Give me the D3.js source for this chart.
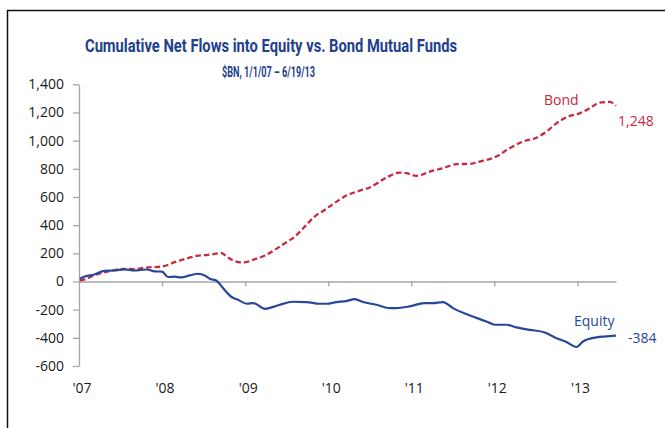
<!DOCTYPE html>
<html>
<head>
<meta charset="utf-8">
<script src="https://cdn.jsdelivr.net/npm/d3@7"></script>
<style>
	body { margin: 0; background: #fff; }
	text { font-family: "Open Sans", sans-serif; }
</style>
</head>
<body>
<div id="container"></div>
<script>
// chart data
var equityDates = ["2007-01-05", "2007-01-27", "2007-03-10", "2007-04-23", "2007-06-06", "2007-07-20", "2007-09-02", "2007-10-24",
	"2007-12-01", "2008-01-01", "2008-01-28", "2008-02-26", "2008-03-26", "2008-05-02", "2008-06-07", "2008-07-07",
	"2008-07-29", "2008-08-28", "2008-09-25", "2008-11-02", "2008-11-30", "2009-01-08", "2009-02-05", "2009-03-28",
	"2009-04-26", "2009-06-02", "2009-07-30", "2009-09-27", "2009-11-24", "2009-12-24", "2010-02-06", "2010-03-22",
	"2010-04-27", "2010-06-03", "2010-07-31", "2010-09-28", "2010-10-27", "2010-12-24", "2011-02-28", "2011-04-06",
	"2011-05-20", "2011-07-03", "2011-08-31", "2011-11-27", "2012-01-03", "2012-02-23", "2012-04-07", "2012-06-05",
	"2012-08-10", "2012-09-23", "2012-11-13", "2012-12-27", "2013-01-25", "2013-03-25", "2013-05-08", "2013-06-19"];
var equityValues = [20, 35, 50, 76, 78, 86, 78, 85,
	72, 70, 32, 34, 29, 43, 55, 43,
	20, 5, -47, -110, -130, -158, -153, -194,
	-184, -165, -144, -146, -158, -158, -146, -139,
	-125, -146, -165, -189, -189, -177, -153, -153,
	-146, -189, -231, -284, -307, -307, -326, -343,
	-362, -397, -430, -465, -426, -397, -390, -384];

var bondDates = ["2007-01-05", "2007-01-27", "2007-03-10", "2007-05-09", "2007-07-20", "2007-09-02", "2007-10-24", "2008-01-01",
	"2008-02-26", "2008-04-24", "2008-06-08", "2008-07-22", "2008-09-19", "2008-10-11", "2008-11-09", "2008-12-23",
	"2009-02-13", "2009-03-28", "2009-05-11", "2009-06-24", "2009-08-07", "2009-09-20", "2009-11-02", "2009-12-16",
	"2010-01-22", "2010-03-22", "2010-05-19", "2010-07-02", "2010-09-14", "2010-11-11", "2010-12-10", "2011-01-23",
	"2011-03-23", "2011-05-20", "2011-07-18", "2011-09-15", "2011-10-28", "2012-01-10", "2012-03-08", "2012-05-06",
	"2012-07-04", "2012-08-17", "2012-09-30", "2012-11-27", "2013-01-10", "2013-02-24", "2013-04-08", "2013-05-22",
	"2013-06-19"];
var bondValues = [8, 15, 45, 71, 90, 88, 99, 106,
	137, 166, 184, 189, 201, 177, 149, 135,
	159, 184, 225, 272, 319, 390, 461, 508,
	550, 610, 645, 667, 738, 773, 769, 750,
	780, 804, 833, 835, 851, 887, 946, 993,
	1021, 1064, 1123, 1175, 1194, 1230, 1270, 1275,
	1248];

var yTicks = [-600, -400, -200, 0, 200, 400, 600, 800, 1000, 1200, 1400];
var xTickYears = ["2007", "2008", "2009", "2010", "2011", "2012", "2013"];
var xTickLabels = ["'07", "'08", "'09", "'10", "'11", "'12", "'13"];

var titleText = "Cumulative Net Flows into Equity vs. Bond Mutual Funds";
var subtitleText = "$BN, 1/1/07 \u2013 6/19/13";

(function()
{
	var W = 665, H = 428;
	var blue = "#27479b";
	var red = "#c9283e";
	var titleBlue = "#213f8d";
	var axisGray = "#a6a6a6";

	var parseDay = d3.timeParse("%Y-%m-%d");
	var parseYear = d3.timeParse("%Y");
	// plain hyphen for negatives, like the original
	var numFormat = d3.formatLocale({decimal: ".", thousands: ",", grouping: [3], currency: ["$", ""], minus: "-"}).format(",");

	var svg = d3.select("#container").append("svg").attr("width", W).attr("height", H);

	// frame (top + left edge only)
	svg.append("path").attr("d", "M665,10.5 H7.5 V428")
		.attr("fill", "none").attr("stroke", "#111").attr("stroke-width", 1.5);

	// titles - condensed bold look, squeezed to the original width
	svg.append("text").text(titleText)
		.attr("x", 271).attr("y", 52).attr("text-anchor", "middle")
		.attr("textLength", 372).attr("lengthAdjust", "spacingAndGlyphs")
		.style("font-family", "Roboto, sans-serif")
		.style("font-weight", "bold").style("font-size", "19px").attr("fill", titleBlue);
	svg.append("text").text(subtitleText)
		.attr("x", 268.5).attr("y", 76.5).attr("text-anchor", "middle")
		.attr("textLength", 93).attr("lengthAdjust", "spacingAndGlyphs")
		.style("font-family", "Roboto, sans-serif")
		.style("font-weight", "bold").style("font-size", "14px").attr("fill", titleBlue);

	// scales
	var x = d3.scaleTime()
		.domain([parseDay("2007-01-01"), parseDay("2013-06-19")])
		.range([79, 616]);
	var y = d3.scaleLinear().domain([-600, 1400]).range([366, 84.3]);

	// y axis
	var yAxis = svg.append("g").attr("transform", "translate(79,0)")
		.call(d3.axisLeft(y).tickValues(yTicks).tickSize(6).tickSizeOuter(0).tickPadding(9).tickFormat(numFormat));
	yAxis.select(".domain").attr("stroke", axisGray).attr("stroke-width", 1.3);
	yAxis.selectAll(".tick line").attr("stroke", axisGray).attr("stroke-width", 1.3);
	yAxis.selectAll(".tick text").style("font-family", "'Open Sans', sans-serif").style("font-size", "14px").attr("fill", "#1a1a1a");

	// x axis along zero
	var yearDates = xTickYears.map(function(s) { return parseYear(s); });
	var xAxis = svg.append("g").attr("transform", "translate(0," + y(0) + ")")
		.call(d3.axisBottom(x).tickValues(yearDates.slice(1)).tickSize(5).tickSizeOuter(0).tickFormat(""));
	xAxis.select(".domain").attr("stroke", axisGray).attr("stroke-width", 1.3);
	xAxis.selectAll(".tick line").attr("stroke", axisGray).attr("stroke-width", 1.3);

	svg.append("g").selectAll("text").data(yearDates).enter().append("text")
		.attr("x", function(d) { return x(d) + 3; })
		.attr("y", 393)
		.attr("text-anchor", "middle")
		.style("font-size", "14px").attr("fill", "#1a1a1a")
		.text(function(d, i) { return xTickLabels[i]; });

	// lines
	var line = d3.line()
		.x(function(d) { return x(d.date); })
		.y(function(d) { return y(d.value); })
		.curve(d3.curveMonotoneX);

	var bond = bondDates.map(function(s, i) { return {date: parseDay(s), value: bondValues[i]}; });
	var equity = equityDates.map(function(s, i) { return {date: parseDay(s), value: equityValues[i]}; });

	svg.append("path").datum(bond).attr("d", line)
		.attr("fill", "none").attr("stroke", red).attr("stroke-width", 2.3)
		.attr("stroke-dasharray", "5.5,3");
	svg.append("path").datum(equity).attr("d", line)
		.attr("fill", "none").attr("stroke", blue).attr("stroke-width", 2.2);

	// series labels
	var lastBond = bond[bond.length - 1], lastEquity = equity[equity.length - 1];
	svg.append("text").text("Bond").attr("x", 544).attr("y", 105)
		.style("font-size", "14px").attr("fill", red);
	svg.append("text").text(numFormat(lastBond.value))
		.attr("x", x(lastBond.date) + 2).attr("y", y(lastBond.value) + 20)
		.style("font-size", "14px").attr("fill", red);
	svg.append("text").text("Equity").attr("x", 574).attr("y", 326)
		.style("font-size", "14px").attr("fill", blue);
	svg.append("text").text(numFormat(lastEquity.value))
		.attr("x", x(lastEquity.date) + 12).attr("y", y(lastEquity.value) + 7)
		.style("font-size", "14px").attr("fill", blue);
})();
</script>
</body>
</html>
